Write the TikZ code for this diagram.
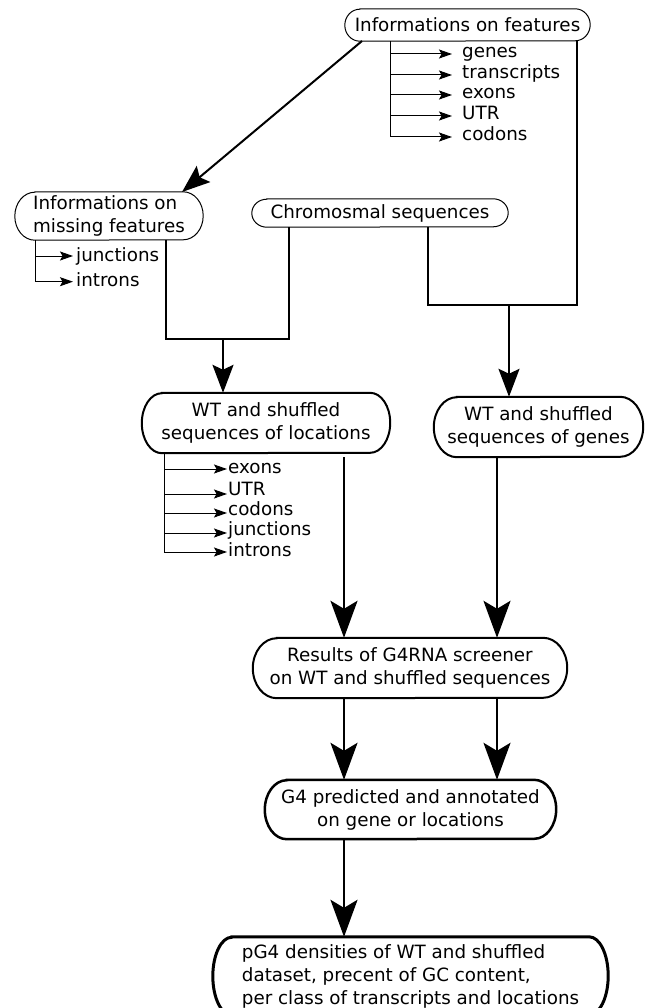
\documentclass[tikz,border=0pt]{standalone}
\usepackage{fontspec}
\setmainfont{DejaVu Sans}
\usetikzlibrary{arrows.meta,calc}
\newcommand{\pillbox}[4]{%
  \draw[line width=#4] ($(#1.north west)+(#2pt,0pt)$) -- ($(#1.north east)+(-#2pt,0pt)$)
    arc[start angle=90,end angle=-90,x radius=#2pt,y radius=#3pt]
    -- ($(#1.south west)+(#2pt,0pt)$)
    arc[start angle=270,end angle=90,x radius=#2pt,y radius=#3pt] -- cycle;}
\begin{document}
\begin{tikzpicture}[x=1pt,y=-1pt,
  font=\fontsize{18.3}{23}\selectfont,
  box/.style={rectangle, inner sep=0pt, align=center},
  lab/.style={anchor=base west, inner ysep=0pt},
  conn/.style={line width=2.3pt},
  bigarrow/.style={conn, -{Stealth[length=37pt,width=27pt,inset=8pt]}},
  medarrow/.style={conn, -{Stealth[length=28pt,width=21pt,inset=5pt]}},
  brk/.style={line width=1pt},
  smallarrow/.style={brk, -{Stealth[length=13pt,width=9pt,inset=2.5pt]}}
]
\useasboundingbox (0,0) rectangle (649,1008);

% boxes
\node[box, minimum width=245pt, minimum height=32pt] (feat) at (467.5,25) {Informations on features};
\node[box, minimum width=188pt, minimum height=48pt, align=left] (miss) at (109,216) {Informations on\\missing features};
\node[box, minimum width=256pt, minimum height=28pt] (chrom) at (380,213) {Chromosmal sequences};
\node[box, minimum width=248pt, minimum height=60pt] (loc) at (266,423) {WT and shuffled\\sequences of locations};
\node[box, minimum width=209pt, minimum height=60pt] (genes) at (538.5,427) {WT and shuffled\\sequences of genes};
\node[box, minimum width=314pt, minimum height=60pt] (res) at (410,668) {Results of G4RNA screener\\on WT and shuffled sequences};
\node[box, minimum width=291pt, minimum height=59pt] (g4) at (410.5,809.5) {G4 predicted and annotated\\on gene or locations};
\node[box, minimum width=395pt, minimum height=78pt, align=left] (pg4) at (410.5,976) {pG4 densities of WT and shuffled\\dataset, precent of GC content,\\per class of transcripts and locations};

\pillbox{feat}{15}{16}{1pt}
\pillbox{miss}{20}{24}{1pt}
\pillbox{chrom}{15}{14}{1pt}
\pillbox{loc}{20}{30}{2pt}
\pillbox{genes}{23}{30}{2pt}
\pillbox{res}{24}{30}{2pt}
\pillbox{g4}{22}{29.5}{2.5pt}
\pillbox{pg4}{19}{39}{3pt}

% bracket under "Informations on features"
\node[lab, inner xsep=10pt] (fa) at (452,58) {genes};
\node[lab, inner xsep=10pt] (fb) at (452,79) {transcripts};
\node[lab, inner xsep=10pt] (fc) at (452,99) {exons};
\node[lab, inner xsep=10pt] (fd) at (452,120) {UTR};
\node[lab, inner xsep=10pt] (fe) at (452,141) {codons};
\coordinate (fa0) at (390,54);
\coordinate (fb0) at (390,75);
\coordinate (fc0) at (390,95);
\coordinate (fd0) at (390,116);
\coordinate (fe0) at (390,137);
\draw[brk] (fa0 |- feat.south) -- (fe0);
\foreach \n in {fa,fb,fc,fd,fe} \draw[smallarrow] (\n0) -- (\n0 -| \n.west);

% bracket under "Informations on missing features"
\node[lab, inner xsep=3pt] (ma) at (73,261.7) {junctions};
\node[lab, inner xsep=3pt] (mb) at (73,286.7) {introns};
\coordinate (ma0) at (35,256);
\coordinate (mb0) at (35,281.7);
\draw[brk] (ma0 |- miss.south) -- (mb0);
\foreach \n in {ma,mb} \draw[smallarrow] (\n0) -- (\n0 -| \n.west);

% bracket under "WT and shuffled sequences of locations"
\node[lab, inner xsep=1pt] (la) at (227,473) {exons};
\node[lab, inner xsep=1pt] (lb) at (227,495) {UTR};
\node[lab, inner xsep=1pt] (lc) at (227,515) {codons};
\node[lab, inner xsep=1pt] (ld) at (227,535) {junctions};
\node[lab, inner xsep=1pt] (le) at (227,556.7) {introns};
\coordinate (la0) at (164,469);
\coordinate (lb0) at (164,494);
\coordinate (lc0) at (164,513);
\coordinate (ld0) at (164,533);
\coordinate (le0) at (164,552);
\draw[brk] (la0 |- loc.south) -- (le0);
\foreach \n in {la,lb,lc,ld,le} \draw[smallarrow] (\n0) -- (\n0 -| \n.west);

% diagonal arrow
\coordinate (d1) at (362,41);
\coordinate (d2) at (182,192);
\draw[medarrow, line width=2pt] (d1) -- (d2);

% features + chromosomal -> genes
\coordinate (j1) at (577,305);
\coordinate (j2) at (428,305);
\coordinate (j3) at (509,305);
\draw[conn] (j1 |- feat.south) -- (j1) -- (j2) -- (j2 |- chrom.south);
\draw[medarrow] (j3) -- (j3 |- genes.north);

% missing + chromosomal -> locations
\coordinate (k1) at (166,339);
\coordinate (k2) at (289,339);
\coordinate (k3) at (223,339);
\draw[conn] (k1 |- miss.south) -- (k1) -- (k2) -- (k2 |- chrom.south);
\draw[medarrow] (k3) -- (k3 |- loc.north);

% to results
\coordinate (a1) at (344,457);
\coordinate (a2) at (497,457);
\draw[bigarrow] (a1) -- (a1 |- res.north);
\draw[bigarrow] (a2 |- genes.south) -- (a2 |- res.north);

% results -> G4
\coordinate (b1) at (344,698);
\coordinate (b2) at (497,698);
\draw[bigarrow] (b1 |- res.south) -- (b1 |- g4.north);
\draw[bigarrow] (b2 |- res.south) -- (b2 |- g4.north);

% G4 -> pG4
\coordinate (c1) at (344,839);
\draw[bigarrow] (c1 |- g4.south) -- (c1 |- pg4.north);
\end{tikzpicture}
\end{document}
